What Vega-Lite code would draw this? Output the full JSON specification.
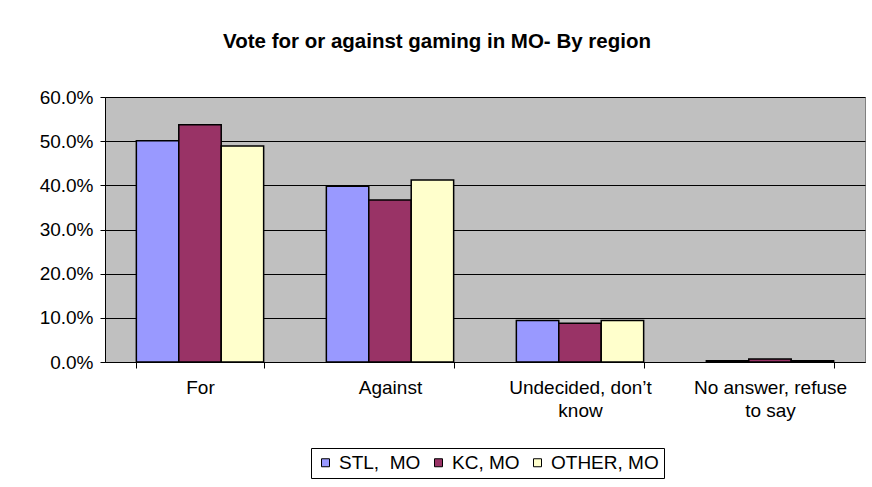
{
  "$schema": "https://vega.github.io/schema/vega-lite/v6.json",
  "autosize": "none",
  "width": 760,
  "height": 265,
  "padding": {"left": 105, "top": 97, "right": 7, "bottom": 125},
  "background": "white",
  "title": {
    "text": "Vote for or against gaming in MO- By region",
    "font": "Liberation Sans",
    "fontSize": 20.5,
    "fontWeight": "bold",
    "color": "black",
    "anchor": "middle",
    "frame": "group",
    "dx": -48,
    "offset": 36
  },
  "data": {
    "values": [
      {"answer": "For", "region": "STL, \u00a0MO", "pct": 0.501},
      {"answer": "For", "region": "KC, MO", "pct": 0.537},
      {"answer": "For", "region": "OTHER, MO", "pct": 0.489},
      {"answer": "Against", "region": "STL, \u00a0MO", "pct": 0.398},
      {"answer": "Against", "region": "KC, MO", "pct": 0.367},
      {"answer": "Against", "region": "OTHER, MO", "pct": 0.412},
      {"answer": "Undecided, don’t know", "region": "STL, \u00a0MO", "pct": 0.094},
      {"answer": "Undecided, don’t know", "region": "KC, MO", "pct": 0.088},
      {"answer": "Undecided, don’t know", "region": "OTHER, MO", "pct": 0.094},
      {"answer": "No answer, refuse to say", "region": "STL, \u00a0MO", "pct": 0.003},
      {"answer": "No answer, refuse to say", "region": "KC, MO", "pct": 0.007},
      {"answer": "No answer, refuse to say", "region": "OTHER, MO", "pct": 0.003}
    ]
  },
  "mark": {"type": "bar", "stroke": "black", "strokeWidth": 1.5},
  "encoding": {
    "x": {
      "field": "answer",
      "type": "nominal",
      "sort": null,
      "title": null,
      "scale": {"paddingInner": 0.33, "paddingOuter": 0.165},
      "axis": {
        "labelAngle": 0,
        "labelFont": "Liberation Sans",
        "labelFontSize": 19,
        "labelColor": "black",
        "labelLineHeight": 23,
        "labelPadding": 10,
        "labelExpr": "datum.label == 'Undecided, don’t know' ? ['Undecided, don’t', 'know'] : datum.label == 'No answer, refuse to say' ? ['No answer, refuse', 'to say'] : datum.label",
        "domainColor": "black",
        "tickColor": "black",
        "tickSize": 6,
        "tickBand": "extent",
        "grid": false
      }
    },
    "xOffset": {
      "field": "region",
      "type": "nominal",
      "sort": ["STL, \u00a0MO", "KC, MO", "OTHER, MO"],
      "scale": {"paddingInner": 0, "paddingOuter": 0}
    },
    "y": {
      "field": "pct",
      "type": "quantitative",
      "title": null,
      "scale": {"domain": [0, 0.6], "nice": false},
      "axis": {
        "format": ".1%",
        "values": [0, 0.1, 0.2, 0.3, 0.4, 0.5, 0.6],
        "labelFont": "Liberation Sans",
        "labelFontSize": 19,
        "labelColor": "black",
        "labelPadding": 7,
        "tickSize": 5,
        "tickColor": "black",
        "domainColor": "black",
        "grid": true,
        "gridColor": "black",
        "gridOpacity": 1,
        "gridWidth": 1
      }
    },
    "color": {
      "field": "region",
      "type": "nominal",
      "sort": ["STL, \u00a0MO", "KC, MO", "OTHER, MO"],
      "scale": {"domain": ["STL, \u00a0MO", "KC, MO", "OTHER, MO"], "range": ["#9999FF", "#993366", "#FFFFCC"]},
      "legend": {
        "title": null,
        "orient": "none",
        "legendX": 206,
        "legendY": 351,
        "direction": "horizontal",
        "symbolType": "square",
        "symbolSize": 64,
        "symbolStrokeColor": "black",
        "symbolStrokeWidth": 1,
        "symbolOpacity": 1,
        "labelFont": "Liberation Sans",
        "labelFontSize": 19,
        "labelColor": "black",
        "labelOffset": 4,
        "columnPadding": 8,
        "padding": 5,
        "strokeColor": "black",
        "fillColor": "white"
      }
    }
  },
  "config": {
    "view": {"fill": "#C0C0C0", "stroke": "#808080", "strokeWidth": 1}
  }
}
